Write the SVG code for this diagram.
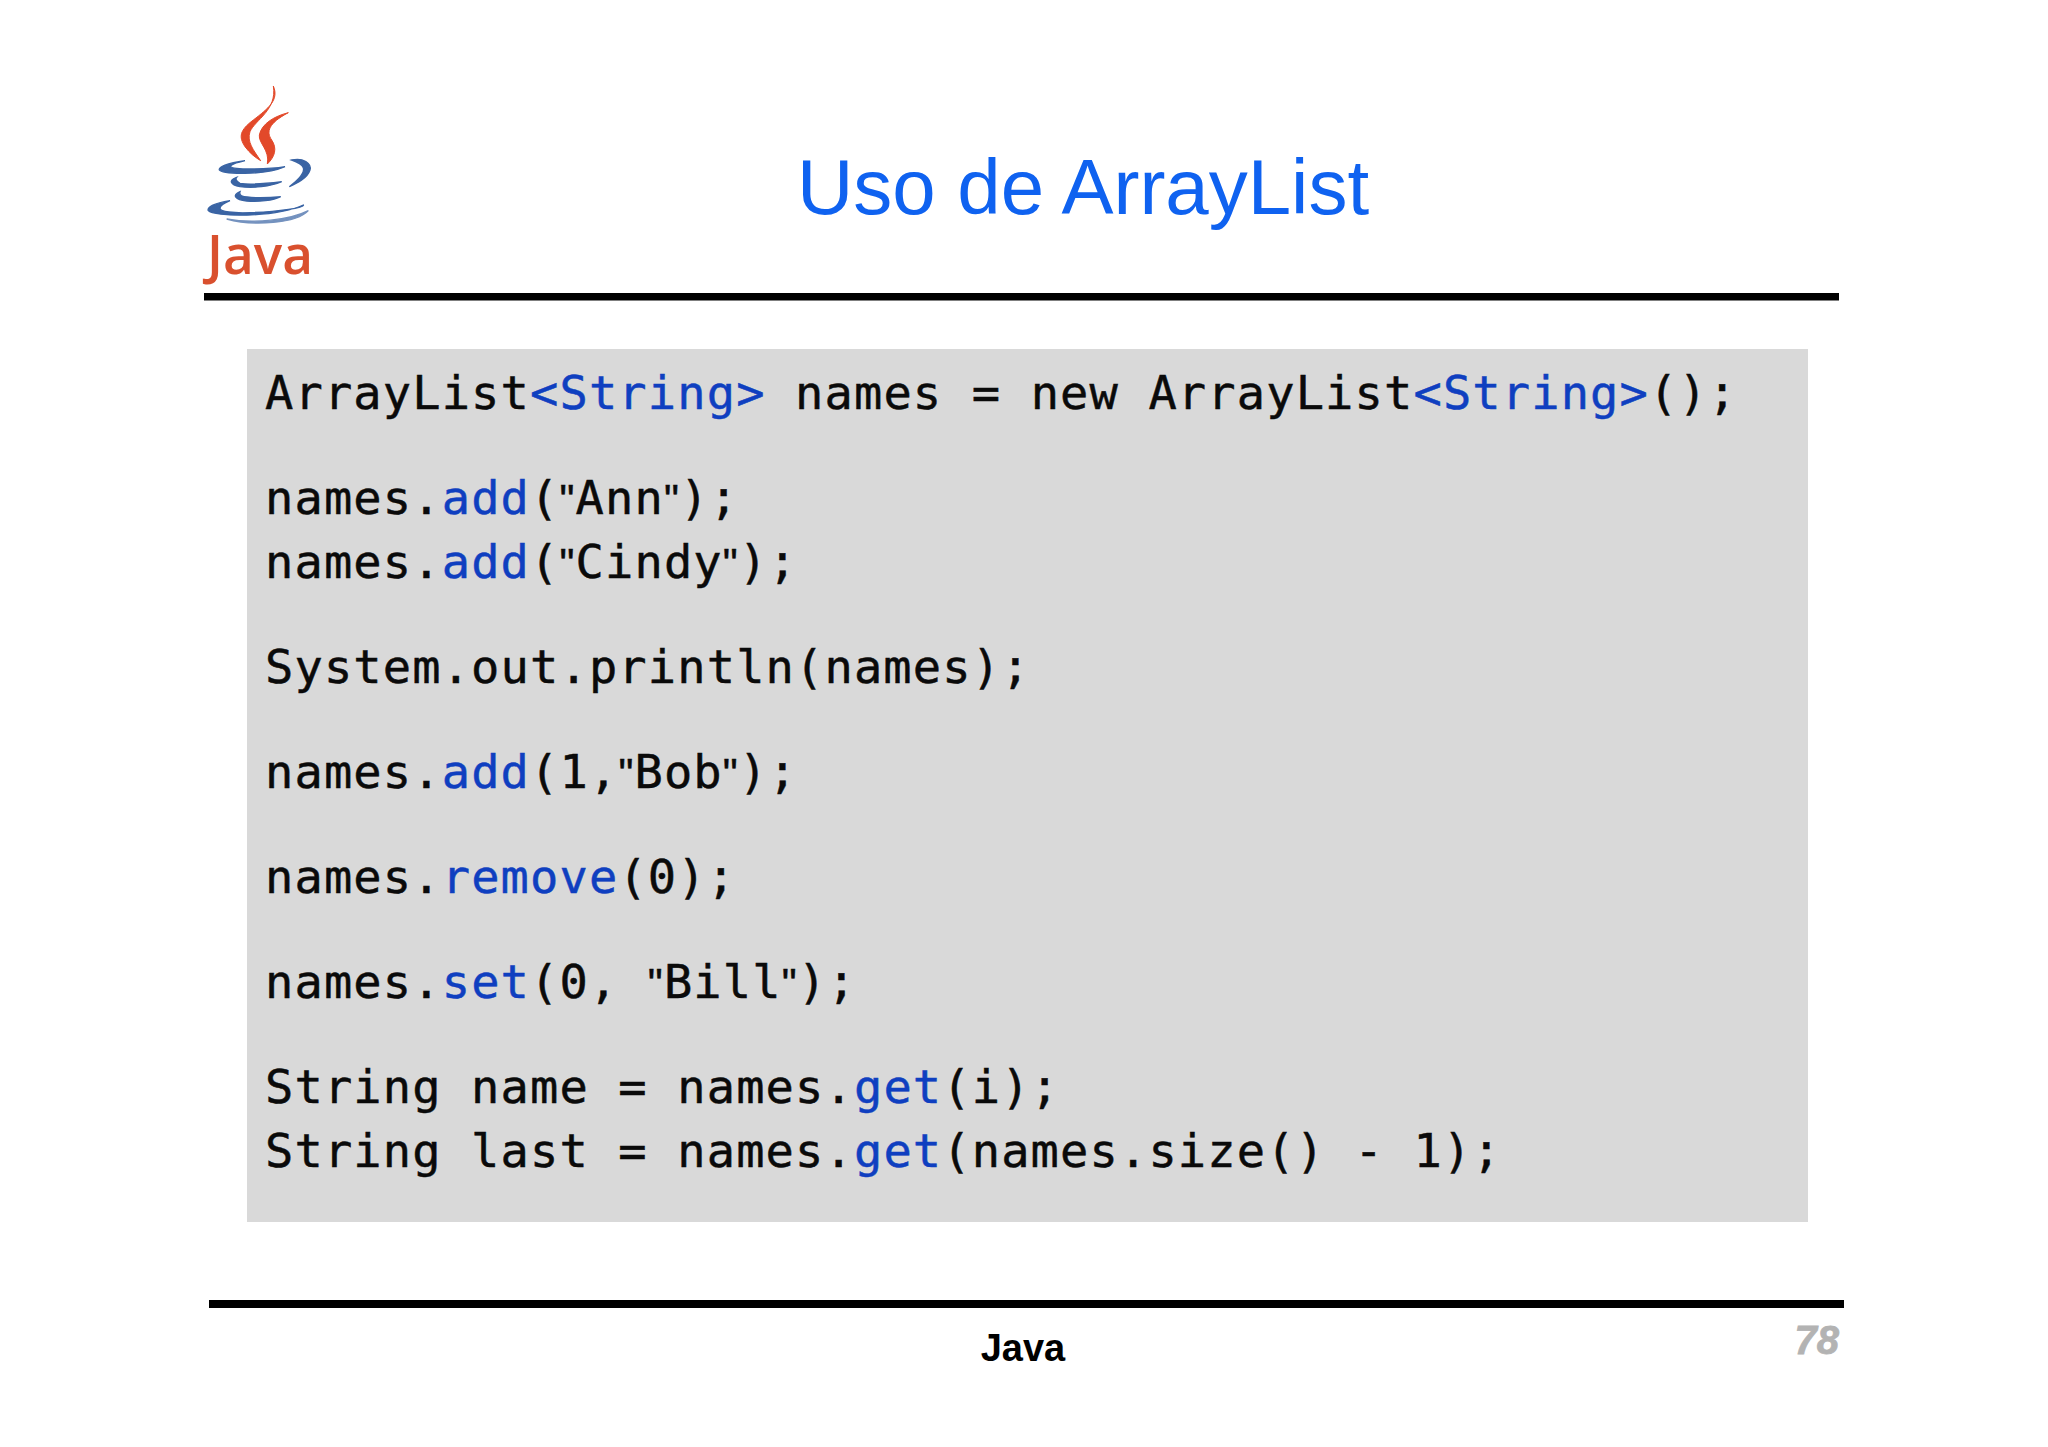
<svg xmlns="http://www.w3.org/2000/svg" width="2048" height="1447" viewBox="0 0 2048 1447">
<style>
.code{font-family:"DejaVu Sans Mono","Liberation Mono",monospace;font-size:47px;letter-spacing:1.15px;fill:#0a0a0a;stroke:#0a0a0a;stroke-width:.5px;white-space:pre}
.k{fill:#0f3fc0;stroke:#0f3fc0}
.q{font-family:"Liberation Sans",Arial,sans-serif;font-size:42px}
.rule{fill:#000}
.fl{fill:#e2492a;stroke:#e2492a;stroke-width:3}
.bl{fill:#3a64a4;stroke:#3a64a4;stroke-width:4}
</style>
<rect width="2048" height="1447" fill="#fff"/>
<g id="logo">
<g transform="translate(190 70) scale(.33333)">
<path class="fl" d="M250 48C268 90 235 115 190 150C150 180 145 200 165 230C180 250 195 262 212 272C190 240 170 215 180 185C195 150 262 120 250 48Z"/>
<path class="fl" d="M295 128C255 138 215 160 208 195C205 220 240 240 232 282C255 260 262 235 245 210C228 185 235 160 295 128Z"/>
<path class="bl" d="M165 272C110 280 85 290 88 300C95 312 220 318 285 290C240 298 130 300 122 290C120 283 140 278 165 272Z"/>
<path class="bl" d="M305 270C340 262 365 280 360 300C352 325 320 340 298 350C325 330 345 310 340 293C335 280 320 275 305 270Z"/>
<path class="bl" d="M140 322C115 330 120 345 150 350C190 355 240 350 275 335C235 340 180 345 150 340C140 335 135 328 140 322Z"/>
<path class="bl" d="M150 365C125 375 135 390 170 393C205 396 250 392 272 380C235 384 175 385 155 378C148 373 148 370 150 365Z"/>
<path class="bl" d="M120 392C70 400 50 412 55 422C70 440 250 445 340 405C345 412 270 425 180 428C130 430 90 425 90 415C90 405 105 398 120 392Z"/>
<path class="bl" d="M355 422C300 450 190 462 110 447C190 470 320 460 355 422Z" opacity=".7"/>
</g>
<text x="207" y="274" font-family="'Open Sans',sans-serif" font-weight="600" font-size="54" fill="#d9502e" textLength="106" lengthAdjust="spacingAndGlyphs">Java</text>
</g>
<text id="title" x="1083" y="214" text-anchor="middle" font-family="'Liberation Sans',Arial,sans-serif" font-size="78" fill="#0f62f0">Uso de ArrayList</text>
<rect class="rule" x="204" y="293" width="1635" height="7.5"/>
<g id="code">
<rect x="247" y="349" width="1561" height="873" fill="#d9d9d9"/>
<text class="code" x="265" y="409" xml:space="preserve">ArrayList<tspan class="k">&lt;String&gt;</tspan> names = new ArrayList<tspan class="k">&lt;String&gt;</tspan>();</text>
<text class="code" x="265" y="514" xml:space="preserve">names.<tspan class="k">add</tspan>(<tspan class="q">"</tspan>Ann<tspan class="q">"</tspan>);</text>
<text class="code" x="265" y="578" xml:space="preserve">names.<tspan class="k">add</tspan>(<tspan class="q">"</tspan>Cindy<tspan class="q">"</tspan>);</text>
<text class="code" x="265" y="683" xml:space="preserve">System.out.println(names);</text>
<text class="code" x="265" y="788" xml:space="preserve">names.<tspan class="k">add</tspan>(1,<tspan class="q">"</tspan>Bob<tspan class="q">"</tspan>);</text>
<text class="code" x="265" y="893" xml:space="preserve">names.<tspan class="k">remove</tspan>(0);</text>
<text class="code" x="265" y="998" xml:space="preserve">names.<tspan class="k">set</tspan>(0, <tspan class="q">"</tspan>Bill<tspan class="q">"</tspan>);</text>
<text class="code" x="265" y="1103" xml:space="preserve">String name = names.<tspan class="k">get</tspan>(i);</text>
<text class="code" x="265" y="1167" xml:space="preserve">String last = names.<tspan class="k">get</tspan>(names.size() - 1);</text>
</g>
<rect class="rule" x="209" y="1300" width="1635" height="8"/>
<text id="footer" x="1023" y="1361" text-anchor="middle" font-family="'Liberation Sans',Arial,sans-serif" font-weight="700" font-size="38" fill="#000">Java</text>
<text id="page" x="1839" y="1354" text-anchor="end" font-family="'Liberation Sans',Arial,sans-serif" font-weight="700" font-style="italic" font-size="40" fill="#b3b3b3" stroke="#b3b3b3" stroke-width=".8">78</text>
</svg>
